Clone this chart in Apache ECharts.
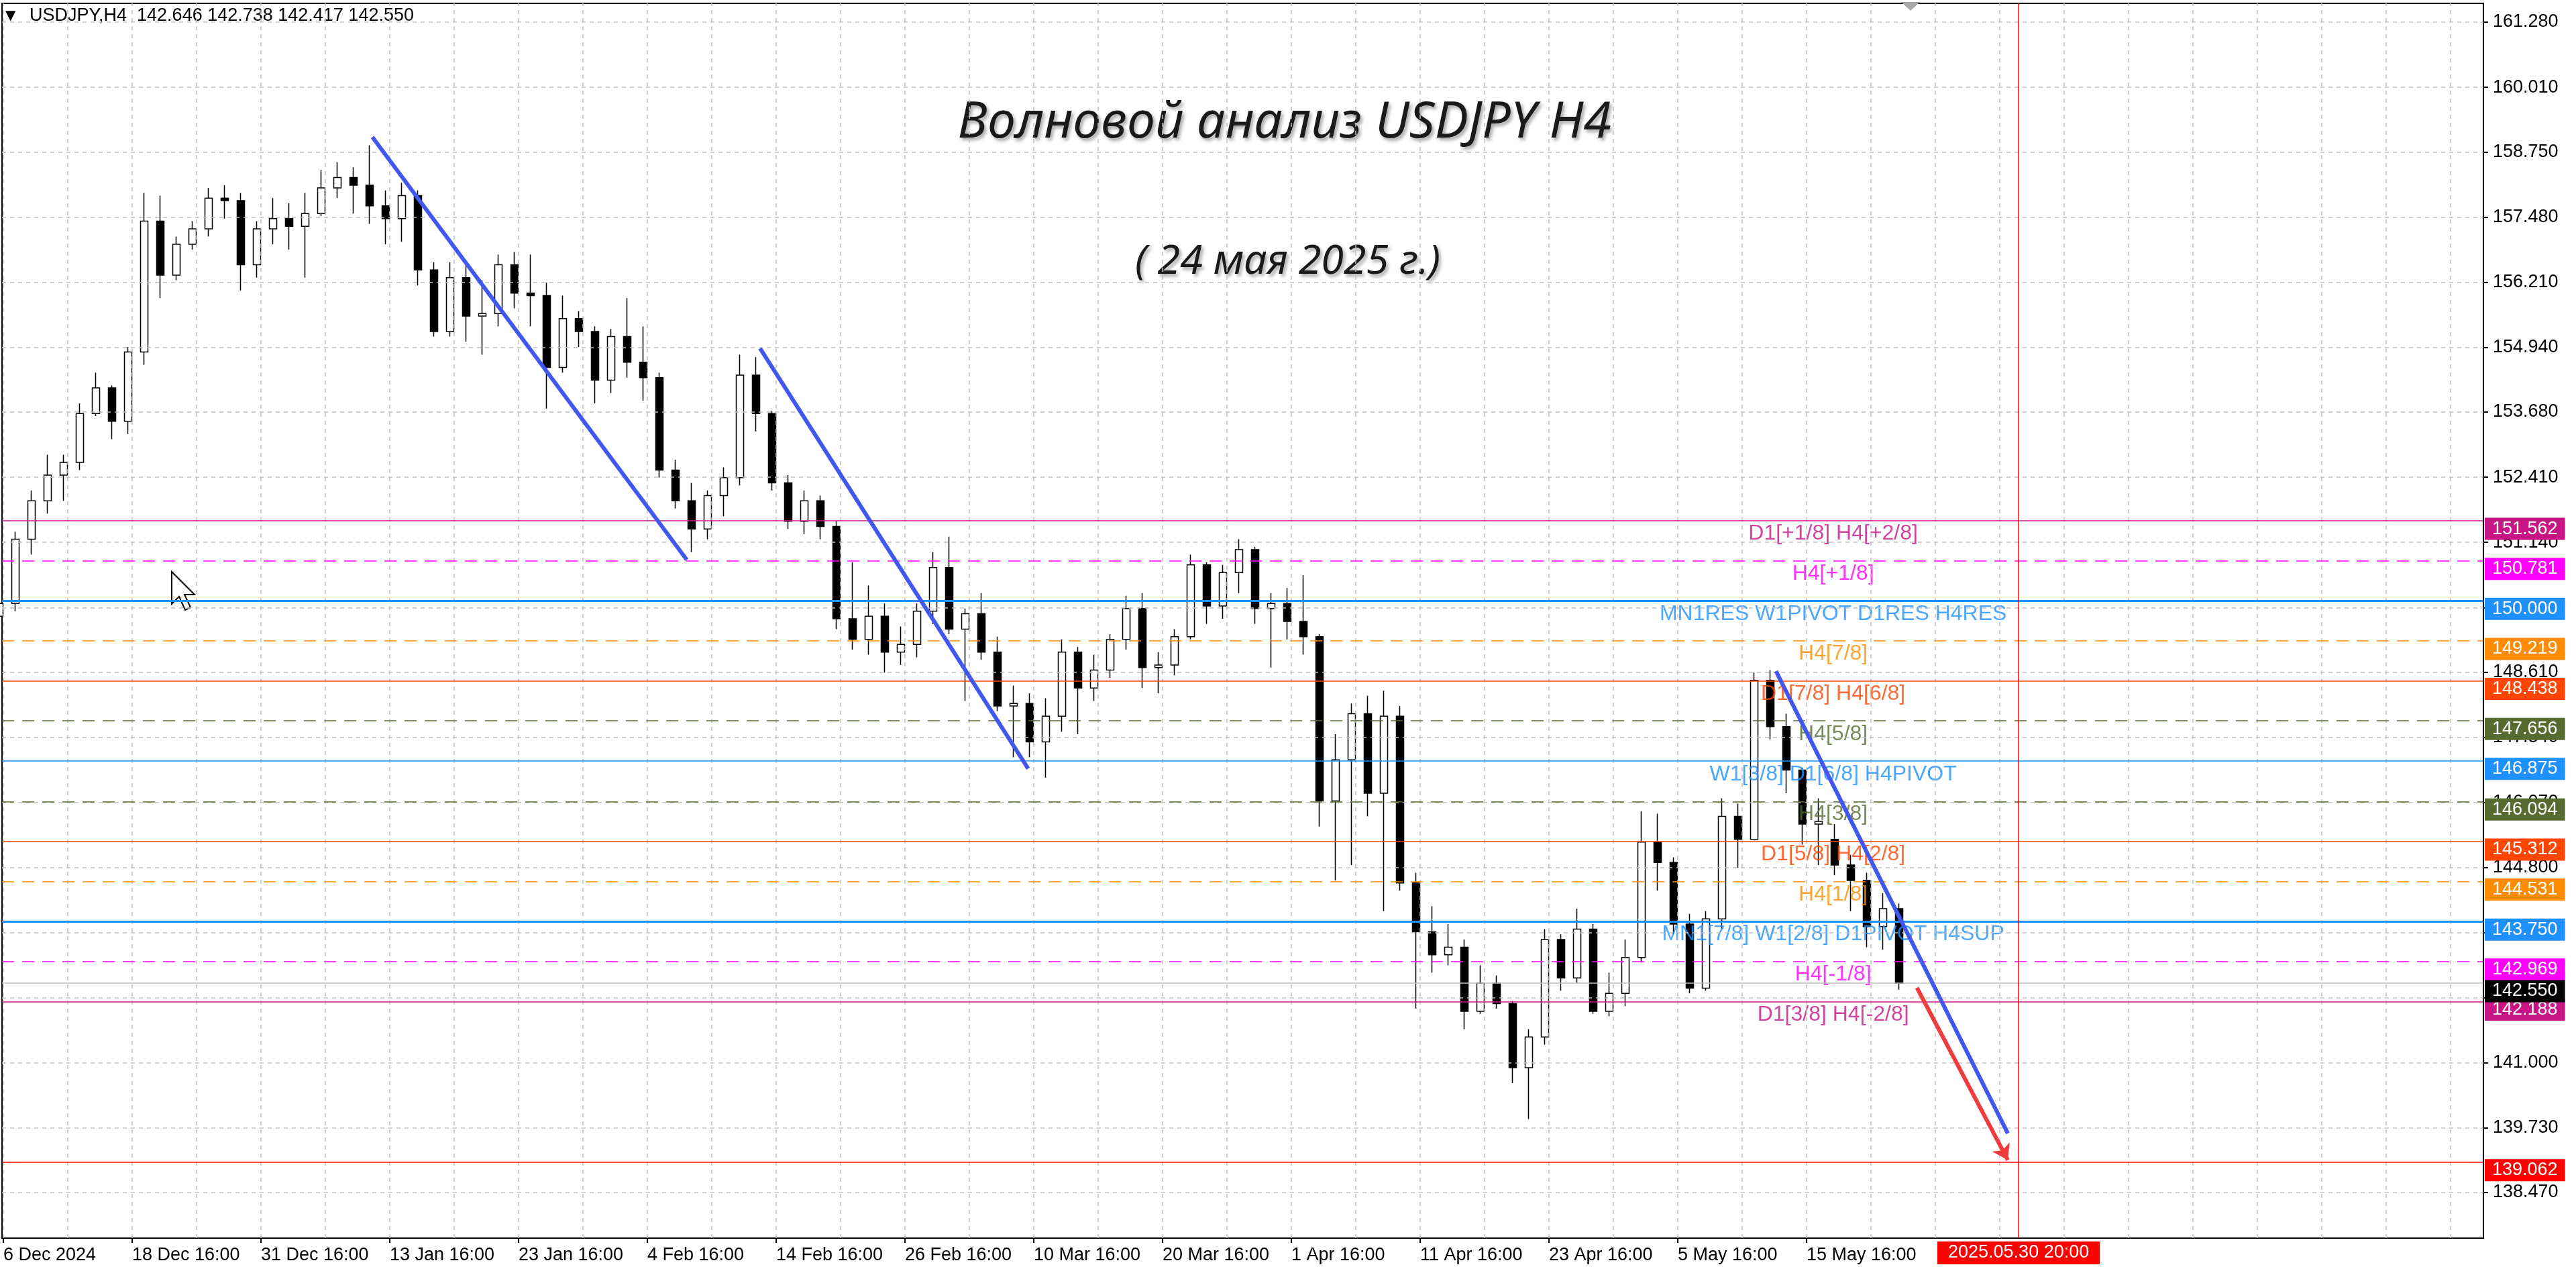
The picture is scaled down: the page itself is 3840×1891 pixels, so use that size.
<!DOCTYPE html>
<html>
<head>
<meta charset="utf-8">
<title>USDJPY H4</title>
<script src="https://cdn.jsdelivr.net/npm/echarts@6.0.0/dist/echarts.min.js"></script>
<style>
html, body { margin: 0; padding: 0; background: #fff; }
#main { width: 3840px; height: 1891px; }
</style>
</head>
<body>
<div id="main"></div>
<script>
// trading days on the chart, one candle per day (server time)
var days = [
  '12-06','12-09','12-10','12-11','12-12','12-13','12-16','12-17','12-18','12-19','12-20',
  '12-23','12-24','12-26','12-27','12-30','12-31','01-02','01-03','01-06','01-07','01-08',
  '01-09','01-10','01-13','01-14','01-15','01-16','01-17','01-20','01-21','01-22','01-23',
  '01-24','01-27','01-28','01-29','01-30','01-31','02-03','02-04','02-05','02-06','02-07',
  '02-10','02-11','02-12','02-13','02-14','02-17','02-18','02-19','02-20','02-21','02-24',
  '02-25','02-26','02-27','02-28','03-03','03-04','03-05','03-06','03-07','03-10','03-11',
  '03-12','03-13','03-14','03-17','03-18','03-19','03-20','03-21','03-24','03-25','03-26',
  '03-27','03-28','03-31','04-01','04-02','04-03','04-04','04-07','04-08','04-09','04-10',
  '04-11','04-14','04-15','04-16','04-17','04-18','04-21','04-22','04-23','04-24','04-25',
  '04-28','04-29','04-30','05-01','05-02','05-05','05-06','05-07','05-08','05-09','05-12',
  '05-13','05-14','05-15','05-16','05-19','05-20','05-21','05-22','05-23'
];
var open = [
  149.70,149.95,151.20,151.95,152.45,152.70,153.65,154.15,153.50,154.85,157.40,
  156.35,156.95,157.25,157.85,157.80,156.55,157.25,157.45,157.30,157.55,158.05,
  158.25,158.10,157.70,157.45,157.90,156.45,155.25,156.30,155.55,155.60,156.55,
  156.00,155.95,154.55,155.50,155.25,154.30,155.15,154.65,154.35,152.55,151.95,
  151.40,152.05,152.40,154.40,153.65,152.30,151.55,151.95,151.45,149.65,149.25,
  149.70,149.00,149.15,149.80,150.65,149.45,149.75,149.00,147.95,148.00,147.25,
  147.75,149.00,148.30,148.65,149.25,149.85,148.70,148.75,149.30,150.70,149.90,
  150.55,151.00,149.85,149.95,149.60,149.30,146.10,146.90,147.80,146.25,147.75,
  144.50,143.55,143.10,143.25,142.00,142.55,142.15,140.90,141.50,143.40,142.65,
  143.60,142.00,142.35,143.05,145.30,144.90,143.70,142.45,143.80,145.80,145.35,
  148.45,147.55,146.70,145.65,145.35,144.85,144.55,143.65,144.00
];
var close = [
  149.95,151.20,151.95,152.45,152.70,153.65,154.15,153.50,154.85,157.40,156.35,
  156.95,157.25,157.85,157.80,156.55,157.25,157.45,157.30,157.55,158.05,158.25,
  158.10,157.70,157.45,157.90,156.45,155.25,156.30,155.55,155.60,156.55,156.00,
  155.95,154.55,155.50,155.25,154.30,155.15,154.65,154.35,152.55,151.95,151.40,
  152.05,152.40,154.40,153.65,152.30,151.55,151.95,151.45,149.65,149.25,149.70,
  149.00,149.15,149.80,150.65,149.45,149.75,149.00,147.95,148.00,147.25,147.75,
  149.00,148.30,148.65,149.25,149.85,148.70,148.75,149.30,150.70,149.90,150.55,
  151.00,149.85,149.95,149.60,149.30,146.10,146.90,147.80,146.25,147.75,144.50,
  143.55,143.10,143.25,142.00,142.55,142.15,140.90,141.50,143.40,142.65,143.60,
  142.00,142.35,143.05,145.30,144.90,143.70,142.45,143.80,145.80,145.35,148.45,
  147.55,146.70,145.65,145.70,144.85,144.55,143.65,144.00,142.55
];
var low = [
  149.35,149.80,150.90,151.70,151.95,152.55,153.60,153.15,153.25,154.60,155.90,
  156.25,156.85,157.10,157.45,156.05,156.30,156.95,156.85,156.30,157.50,157.85,
  157.55,157.35,156.95,157.00,156.15,155.15,155.15,155.05,154.80,155.35,155.70,
  155.35,153.75,154.45,154.95,153.85,154.05,154.35,153.90,152.40,151.80,150.95,
  151.20,151.65,152.25,153.30,152.15,151.40,151.30,151.20,149.45,149.05,148.95,
  148.60,148.75,148.90,149.55,149.35,148.05,148.85,147.85,146.95,146.95,146.55,
  147.45,147.40,148.05,148.50,149.05,148.30,148.20,148.55,149.25,149.55,149.65,
  150.15,149.55,148.70,149.25,148.95,145.60,144.55,144.85,145.80,143.95,144.35,
  142.05,142.75,142.90,141.65,141.95,142.05,140.60,139.90,141.35,142.40,142.55,
  141.95,141.90,142.10,142.95,144.35,143.50,142.35,142.40,143.60,144.80,145.35,
  147.30,146.25,145.25,144.85,144.65,143.95,143.25,143.20,142.42
];
var high = [
  150.25,151.35,152.15,152.85,152.85,153.85,154.45,154.20,154.95,157.95,157.90,
  157.10,157.40,158.05,158.10,157.95,157.40,157.85,157.75,157.95,158.40,158.55,
  158.45,158.88,158.00,158.15,158.00,156.60,156.60,156.55,156.25,156.75,156.80,
  156.75,156.20,155.95,155.65,155.35,155.30,155.90,155.35,154.45,152.75,152.30,
  152.15,152.60,154.80,154.75,153.70,152.45,152.15,152.05,151.55,150.75,150.30,
  149.95,149.50,149.95,150.95,151.25,149.85,150.15,149.30,148.35,148.20,148.10,
  149.25,149.10,148.95,149.35,150.10,150.15,149.00,149.45,150.90,150.75,150.70,
  151.20,151.05,150.15,150.25,150.50,149.35,147.40,148.00,148.15,148.25,147.95,
  144.70,144.05,143.70,143.40,142.90,142.70,142.20,141.65,143.60,143.50,144.00,
  143.70,142.75,143.40,145.90,145.85,145.00,143.90,143.95,146.15,146.05,148.60,
  148.65,147.80,146.75,146.15,145.65,145.05,144.70,144.30,144.10
];
// last H4 bar: open, high, low, close
var lastBar = [142.646, 142.738, 142.417, 142.550];

// time axis labels: the 16:00 bar of every 8th trading day
var xTickDay = [0, 8, 16, 24, 32, 40, 48, 56, 64, 72, 80, 88, 96, 104, 112];
var xTickLabels = ['6 Dec 2024', '18 Dec 16:00', '31 Dec 16:00', '13 Jan 16:00', '23 Jan 16:00',
  '4 Feb 16:00', '14 Feb 16:00', '26 Feb 16:00', '10 Mar 16:00', '20 Mar 16:00',
  '1 Apr 16:00', '11 Apr 16:00', '23 Apr 16:00', '5 May 16:00', '15 May 16:00'];
var yTicks = [138.47, 139.73, 141.00, 142.27, 143.53, 144.80, 146.07, 147.34, 148.61, 149.87,
  151.14, 152.41, 153.68, 154.94, 156.21, 157.48, 158.75, 160.01, 161.28];

// Murrey-style levels
var levelPrice = [151.562, 150.781, 150.000, 149.219, 148.438, 147.656, 146.875,
  146.094, 145.312, 144.531, 143.750, 142.969, 142.188];
var levelText = ['D1[+1/8] H4[+2/8]', 'H4[+1/8]', 'MN1RES W1PIVOT D1RES H4RES', 'H4[7/8]',
  'D1[7/8] H4[6/8]', 'H4[5/8]', 'W1[3/8] D1[6/8] H4PIVOT', 'H4[3/8]', 'D1[5/8] H4[2/8]',
  'H4[1/8]', 'MN1[7/8] W1[2/8] D1PIVOT H4SUP', 'H4[-1/8]', 'D1[3/8] H4[-2/8]'];
var bidPrice = 142.550;
var targetPrice = 139.062;

// wave drawings, in [day, price] pairs
var waveLines = [
  [[23.67, 159.04], [43.2, 150.80]],
  [[47.75, 154.92], [64.4, 146.73]],
  [[110.85, 148.63], [125.25, 139.62]]
];
var arrowLine = [[119.6, 142.46], [125.25, 139.10]];
var futureTime = '2025.05.30 20:00';
var futureDay = 125.92;   // 23 May 20:00 bar + 7 days

// ---- styles ----
var levelColors = ['#c71585', '#ff00ff', '#1e90ff', '#ff8c00', '#ff4500', '#556b2f', '#1e90ff',
  '#556b2f', '#ff4500', '#ff8c00', '#1e90ff', '#ff00ff', '#c71585'];
var levelDashed = [false, true, false, true, false, true, false, true, false, true, false, true, false];
var levelWidth = [1.5, 1.5, 3, 1.5, 1.5, 1.5, 1.5, 1.5, 1.5, 1.5, 3, 1.5, 1.5];
var FONT = "'Liberation Sans', Arial, sans-serif";
var X_MIN = 0.667, X_MAX = 154.79;
var Y_MIN = 137.578, Y_MAX = 161.646;
var LEVEL_TEXT_X = 114.4;

var chart = echarts.init(document.getElementById('main'));

var candleData = days.map(function (d, i) {
  return [i + 0.5, open[i], close[i], low[i], high[i]];
});
var xTickPos = xTickDay.map(function (d) { return d + 0.75; });

var gridLines = [];
for (var g = 0.75; g < X_MAX; g += 4) gridLines.push({ xAxis: g });
yTicks.forEach(function (v) { gridLines.push({ yAxis: v }); });

function priceBox(value, bg) {
  return {
    show: true, position: 'end', distance: 2, offset: [0, 12],
    formatter: function () { return value.toFixed(3); },
    backgroundColor: bg, color: '#fff', fontFamily: FONT, fontSize: 27,
    lineHeight: 28, padding: [3, 11, 2, 11]
  };
}

var levelLines = levelPrice.map(function (p, i) {
  return {
    yAxis: p,
    lineStyle: { color: levelColors[i], width: levelWidth[i], type: levelDashed[i] ? [18, 12] : 'solid' },
    label: priceBox(p, levelColors[i])
  };
});
levelLines.push({ yAxis: bidPrice, lineStyle: { color: '#c0c0c0', width: 1.5, type: 'solid' }, label: priceBox(bidPrice, '#000') });
levelLines.push({ yAxis: targetPrice, lineStyle: { color: '#ff0000', width: 1.5, type: 'solid' }, label: priceBox(targetPrice, '#ff0000') });

var levelLabels = levelPrice.map(function (p, i) {
  return { value: [LEVEL_TEXT_X, p], name: levelText[i], label: { color: levelColors[i] } };
});

var option = {
  animation: false,
  backgroundColor: '#ffffff',
  grid: { left: 3, right: 138, top: 5, bottom: 46, show: true, borderColor: '#000', borderWidth: 2, backgroundColor: '#fff' },
  xAxis: {
    type: 'value', min: X_MIN, max: X_MAX,
    splitLine: { show: false },
    axisLine: { show: true, onZero: false, lineStyle: { color: '#000', width: 2 } },
    axisTick: { show: true, customValues: xTickPos, length: 7, lineStyle: { color: '#000', width: 2 } },
    axisLabel: {
      customValues: xTickPos, align: 'left', margin: 12,
      fontFamily: FONT, fontSize: 27, color: '#000',
      formatter: function (v) { return xTickLabels[Math.round((v - 0.75) / 8)] || ''; }
    }
  },
  yAxis: {
    type: 'value', position: 'right', min: Y_MIN, max: Y_MAX, scale: true,
    splitLine: { show: false },
    axisLine: { show: true, onZero: false, lineStyle: { color: '#000', width: 2 } },
    axisTick: { show: true, customValues: yTicks, length: 7, lineStyle: { color: '#000', width: 2 } },
    axisLabel: {
      customValues: yTicks, margin: 14, fontFamily: FONT, fontSize: 27, color: '#000',
      formatter: function (v) { return v.toFixed(3); }
    }
  },
  graphic: [
    { type: 'text', left: 8, top: 14, style: { text: '▼', fontFamily: 'DejaVu Sans', fontSize: 20, fill: '#000' } },
    { type: 'text', left: 44, top: 10, style: {
        text: 'USDJPY,H4  ' + lastBar.map(function (v) { return v.toFixed(3); }).join(' '),
        fontFamily: FONT, fontSize: 27, fill: '#000' } },
    { type: 'text', left: 1428, top: 146, style: {
        text: 'Волновой анализ USDJPY H4', fontFamily: "'Noto Sans', sans-serif", fontStyle: 'italic',
        fontSize: 75, fill: '#1a1a1a', textShadowColor: 'rgba(0,0,0,0.35)', textShadowBlur: 5,
        textShadowOffsetX: 3, textShadowOffsetY: 4 } },
    { type: 'text', left: 1692, top: 360, style: {
        text: '( 24 мая 2025 г.)', fontFamily: "'Noto Sans', sans-serif", fontStyle: 'italic',
        fontSize: 61, fill: '#1a1a1a', textShadowColor: 'rgba(0,0,0,0.35)', textShadowBlur: 5,
        textShadowOffsetX: 3, textShadowOffsetY: 4 } },
    // chart-shift marker on the top border
    { type: 'polygon', shape: { points: [[2834, 3], [2862, 3], [2848, 16]] }, style: { fill: '#a8a8a8' } },
    // mouse pointer left on the chart
    { type: 'polygon', shape: { points: [[256, 852], [256, 900], [267, 889], [276, 909], [284, 905], [275, 886], [290, 886]] },
      style: { fill: '#fff', stroke: '#000', lineWidth: 2 } }
  ],
  series: [
    {
      name: 'grid', type: 'line', data: [], silent: true, z: 1,
      markLine: {
        silent: true, symbol: 'none', animation: false, label: { show: false },
        lineStyle: { color: '#c0c0c0', type: [6, 6], width: 1.5 },
        data: gridLines
      }
    },
    {
      name: 'levels', type: 'line', data: [], silent: true, z: 2,
      markLine: { silent: true, symbol: 'none', animation: false, data: levelLines }
    },
    {
      name: 'USDJPY', type: 'candlestick', data: candleData, z: 3,
      encode: { x: 0, y: [1, 2, 3, 4] },
      barWidth: 11,
      itemStyle: { color: '#ffffff', color0: '#000000', borderColor: '#000000', borderColor0: '#000000', borderWidth: 1.5 }
    },
    {
      name: 'levelText', type: 'scatter', data: levelLabels, z: 4, silent: true,
      symbolSize: 1, itemStyle: { color: 'transparent' },
      label: {
        show: true, position: 'bottom', distance: 3, fontFamily: FONT, fontSize: 32,
        formatter: function (p) { return p.name; }
      }
    },
    {
      name: 'waves', type: 'line', data: [], silent: true, z: 5,
      markLine: {
        silent: true, animation: false, label: { show: false },
        data: waveLines.map(function (l) {
          return [
            { coord: l[0], symbol: 'none', lineStyle: { color: '#4157f0', width: 6, type: 'solid' } },
            { coord: l[1], symbol: 'none' }
          ];
        }).concat([[
          { coord: arrowLine[0], symbol: 'none', lineStyle: { color: '#f03c3c', width: 6, type: 'solid' } },
          { coord: arrowLine[1], symbol: 'arrow', symbolSize: 22 }
        ]])
      }
    },
    {
      name: 'future', type: 'line', data: [], silent: true, z: 6,
      markLine: {
        silent: true, symbol: 'none', animation: false,
        lineStyle: { color: '#ff0000', width: 1.5, type: 'solid' },
        data: [{
          xAxis: futureDay,
          label: {
            show: true, position: 'start', distance: 5,
            formatter: function () { return futureTime; },
            backgroundColor: '#ff0000', color: '#fff', fontFamily: FONT, fontSize: 27,
            lineHeight: 28, padding: [3, 16, 3, 16]
          }
        }]
      }
    }
  ]
};
chart.setOption(option);
</script>
</body>
</html>
